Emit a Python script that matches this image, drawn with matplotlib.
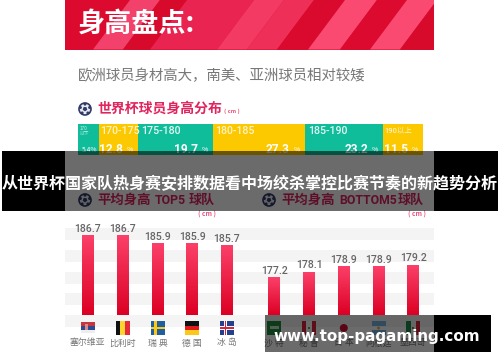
import numpy as np
import matplotlib
matplotlib.use("Agg")
import matplotlib.pyplot as plt
from matplotlib.colors import LinearSegmentedColormap
from matplotlib.patches import Circle, Polygon, Rectangle, RegularPolygon

plt.rcParams['font.family'] = ['Noto Sans CJK SC', 'DejaVu Sans']

W, H = 500, 362

dist_labels = ["170\n以下", "170-175", "175-180", "180-185", "185-190", "190以上"]
dist_pct = [5.4, 12.8, 19.7, 27.3, 23.2, 11.5]
dist_widths = [20.4, 39.6, 75, 91.4, 78.6, 40]
dist_colors = ["#10bd9b", "#fcc800", "#10bd9b", "#fcc800", "#10bd9b", "#fcc800"]

top5_names = ["塞尔维亚", "比利时", "瑞 典", "德 国", "冰 岛"]
top5_values = [186.7, 186.7, 185.9, 185.9, 185.7]
bottom5_names = ["沙 特", "秘 鲁", "日 本", "阿根廷", "墨西哥"]
bottom5_values = [177.2, 178.1, 178.9, 178.9, 179.2]

top5_flags = ["serbia", "belgium", "sweden", "germany", "iceland"]
bottom5_flags = ["saudi", "peru", "japan", "argentina", "mexico"]

# header stripes: left edge at the bottom, right edge at the bottom, colour
stripes = [
    (65, 93, "#dc0a2e"), (93, 123, "#f2416a"), (123, 150, "#d80a2c"),
    (150, 217, "#e92450"), (217, 247, "#f23a62"), (247, 277, "#ee3059"),
    (277, 308, "#d90a2e"), (308, 340, "#fb4a72"), (340, 370, "#dc0a2e"),
    (370, 400, "#fb4a72"), (400, 450, "#d80a2c"),
]

grad_cmap = LinearSegmentedColormap.from_list("bar", ["#fb4069", "#dc0024"])
latin_cjk = ['Roboto', 'Noto Sans CJK SC']
head_red = "#e0245e"


def px_axes(fig, x0, y0, x1, y1, zorder=1):
    # axes placed by reference pixels, y going down
    ax = fig.add_axes([x0 / W, 1 - y1 / H, (x1 - x0) / W, (y1 - y0) / H])
    ax.set_zorder(zorder)
    ax.patch.set_alpha(0)
    ax.axis("off")
    return ax


def ball(ax, cx, cy, r=6):
    ax.add_patch(Circle((cx, cy), r, fc="#e9ebf2", ec="#2f3a66", lw=1.2))
    ax.add_patch(RegularPolygon((cx, cy), 5, radius=r * 0.4, fc="#2f3a66"))
    for a in np.deg2rad([90, 162, 234, 306, 18]):
        ax.add_patch(Circle((cx + r * 0.8 * np.cos(a), cy - r * 0.8 * np.sin(a)),
                            r * 0.24, fc="#2f3a66", lw=0))


def flag(ax, name, cx, cy):
    x, y = cx - 7, cy - 7
    w, h = 14, 14

    def rect(fx, fy, fw, fh, c):
        ax.add_patch(Rectangle((x + fx * w, y + fy * h), fw * w, fh * h, fc=c, lw=0))

    if name == "serbia":
        rect(0, 0.1, 1, 0.27, "#c6363c")
        rect(0, 0.37, 1, 0.27, "#2f4a8f")
        rect(0, 0.64, 1, 0.2, "#eeeeee")
        rect(0.28, 0.2, 0.24, 0.45, "#d98a8a")
    elif name == "belgium":
        rect(0, 0, 1 / 3, 1, "#111111")
        rect(1 / 3, 0, 1 / 3, 1, "#fbd52e")
        rect(2 / 3, 0, 1 / 3, 1, "#e8293a")
    elif name == "sweden":
        rect(0, 0, 1, 1, "#1f5f9f")
        rect(0.28, 0, 0.2, 1, "#fcc716")
        rect(0, 0.4, 1, 0.2, "#fcc716")
    elif name == "germany":
        rect(0, 0, 1, 1 / 3, "#111111")
        rect(0, 1 / 3, 1, 1 / 3, "#dd1c1c")
        rect(0, 2 / 3, 1, 1 / 3, "#fcc716")
    elif name == "iceland":
        rect(0, 0, 1, 1, "#23408f")
        rect(0.26, 0, 0.26, 1, "#ffffff")
        rect(0, 0.37, 1, 0.26, "#ffffff")
        rect(0.33, 0, 0.12, 1, "#d8243c")
        rect(0, 0.44, 1, 0.12, "#d8243c")
    elif name == "saudi":
        rect(0, 0, 1, 1, "#1f8a3c")
        rect(0.2, 0.35, 0.6, 0.2, "#bfe3c8")
    elif name == "peru":
        rect(0, 0, 1, 1, "#ffffff")
        rect(0, 0, 0.3, 1, "#d8243c")
        rect(0.7, 0, 0.3, 1, "#d8243c")
        rect(0.42, 0.4, 0.16, 0.2, "#7f9a50")
    elif name == "japan":
        ax.add_patch(Circle((cx, cy), 4, fc="#d8102c", lw=0))
    elif name == "argentina":
        rect(0, 0, 1, 1 / 3, "#75b2e0")
        rect(0, 2 / 3, 1, 1 / 3, "#75b2e0")
        ax.add_patch(Circle((cx, cy), 1.4, fc="#e0b040", lw=0))
    elif name == "mexico":
        rect(0, 0, 1 / 3, 1, "#1c8a4c")
        rect(2 / 3, 0, 1 / 3, 1, "#d8243c")
        rect(0.42, 0.4, 0.16, 0.2, "#8a7a50")


def team_chart(fig, x0, x1, first, step, base, per_px, values):
    # bars stand on pixel row 315, base is the value sitting on that row
    ax = px_axes(fig, x0, 215, x1, 315)
    xs = np.arange(len(values))
    bar_w = 12 / step
    bars = ax.bar(xs, np.array(values) - base, bar_w, bottom=base, color="#ee2048", zorder=2)
    grad = np.linspace(0, 1, 64).reshape(-1, 1)
    for b, v in zip(bars, values):
        ax.imshow(grad, extent=(b.get_x(), b.get_x() + bar_w, base, v), aspect="auto",
                  cmap=grad_cmap, zorder=3)
        ax.text(b.get_x() + bar_w / 2, v + 2 * per_px, "%.1f" % v, ha="center", va="bottom",
                fontsize=7.6, color="#666666", family="Roboto", fontweight="medium")
    ax.set_xlim((x0 - first) / step, (x1 - first) / step)
    ax.set_ylim(base, base + 100 * per_px)


def heading(ax, x, latin_x, tail_x, latin):
    ax.text(x, 200, "平均身高", color=head_red, fontsize=9.6, fontweight="bold", va="center")
    ax.text(latin_x, 200, latin, color=head_red, fontsize=8.8, fontweight="bold", va="center", family="Roboto")
    ax.text(tail_x, 200, "球队", color=head_red, fontsize=9.4, fontweight="bold", va="center")


def plot():
    fig = plt.figure(figsize=(W / 100, H / 100), dpi=100, facecolor="white")
    bg = px_axes(fig, 0, 0, W, H, zorder=0)
    bg.set_xlim(0, W)
    bg.set_ylim(H, 0)

    # header
    bg.add_patch(Rectangle((65, 0), 369, 49.5, fc="#dc0a2e", lw=0))
    frame = Rectangle((65, 0), 369, 49.5, transform=bg.transData)
    for left, right, c in stripes:
        p = Polygon([(left, 49.5), (right, 49.5), (right + 37, 0), (left + 37, 0)], fc=c, lw=0)
        bg.add_patch(p)
        p.set_clip_path(frame)
    bg.text(78, 24, "身高盘点:", color="white", fontsize=19.5, fontweight="bold", va="center")

    bg.text(78, 76, "欧洲球员身材高大，南美、亚洲球员相对较矮", color="#777777", fontsize=10.4, va="center")

    # section headings
    ball(bg, 85, 109)
    bg.text(97, 109, "世界杯球员身高分布", color=head_red, fontsize=10, fontweight="bold", va="center")
    bg.text(224, 111, "( cm )", color="#e8577f", fontsize=4.2, va="center", fontweight="bold")
    ball(bg, 85, 200)
    heading(bg, 97.5, 155, 189, "TOP5")
    ball(bg, 269, 200)
    heading(bg, 281.5, 339, 398, "BOTTOM5")
    bg.text(198, 214, "( cm )", color="#e8577f", fontsize=4.8, va="center", fontweight="bold")
    bg.text(408, 214, "( cm )", color="#e8577f", fontsize=4.8, va="center", fontweight="bold")

    # grey rows behind the team bars
    for y in [228, 250, 272, 293, 315]:
        bg.add_patch(Rectangle((65, y), 369, 12, fc="#f4f4f4", lw=0))

    # distribution strip
    dist = px_axes(fig, 78.3, 124, 423.3, 154.5)
    dist.set_xlim(0, sum(dist_widths))
    dist.set_ylim(30.5, 0)
    lefts = np.cumsum([0] + dist_widths[:-1])
    dist.barh(0, dist_widths, left=lefts, height=61, color=dist_colors, lw=0)
    for i, (left, w) in enumerate(zip(lefts, dist_widths)):
        if i == 0:
            dist.text(left + 1.5, 7, dist_labels[i], color="#c8efe6", fontsize=3.4, va="center", linespacing=0.9)
            dist.text(left + w - 1, 25.5, "%.1f%%" % dist_pct[i], color="white", fontsize=4.8,
                      ha="right", va="center", clip_on=True)
        else:
            size = 5.4 if i == 5 else 7.7
            dist.text(left + 1.5 if i % 2 else left + 3, 6.5, dist_labels[i],
                      color="#fff3c8" if i % 2 else "#e2f8f2", fontsize=size,
                      family=latin_cjk, fontweight="medium", va="center")
            dist.text(left + w - 15, 25.5, "%.1f" % dist_pct[i], color="white", fontsize=8.6,
                      fontweight="bold", ha="right", va="center", family="Roboto", clip_on=True)
            dist.text(left + w - 5, 26, "%", color="white", fontsize=5, ha="right", va="center", clip_on=True)

    # team bars
    team_chart(fig, 65, 250, 88, 34.75, 178.77, 0.1, top5_values)
    team_chart(fig, 252, 434, 274.3, 34.75, 171.5, 0.154, bottom5_values)

    for i in range(5):
        cx = 88 + i * 34.75
        flag(bg, top5_flags[i], cx, 328)
        bg.text(cx - (1 if i == 0 else 0), 343, top5_names[i], ha="center", va="center",
                fontsize=6.4, color="#777777")
        cx = 274.3 + i * 34.75
        flag(bg, bottom5_flags[i], cx, 328)
        bg.text(cx, 343, bottom5_names[i], ha="center", va="center", fontsize=6.4, color="#777777")

    # dark title band and watermark sit on top of everything
    top = px_axes(fig, 0, 0, W, H, zorder=5)
    top.set_xlim(0, W)
    top.set_ylim(H, 0)
    top.add_patch(Rectangle((2, 151), 63, 60, fc="black", lw=0))
    top.add_patch(Rectangle((434, 151), 64, 60, fc="black", lw=0))
    top.add_patch(Rectangle((65, 151), 369, 60, fc="black", alpha=0.58, lw=0))
    top.text(250, 184, "从世界杯国家队热身赛安排数据看中场绞杀掌控比赛节奏的新趋势分析", color="white",
             fontsize=11.55, fontweight="bold", ha="center", va="center")
    top.add_patch(Rectangle((265, 315), 169, 37, fc="black", alpha=0.58, lw=0))
    top.add_patch(Rectangle((434, 315), 57, 37, fc="black", lw=0))
    top.text(377, 336.5, "www.top-pagaming.com", color="white", fontsize=10.9, fontweight="bold",
             ha="center", va="center", family="DejaVu Sans")

    fig.savefig("out.png", dpi=100)


if __name__ == '__main__':
    plot()
